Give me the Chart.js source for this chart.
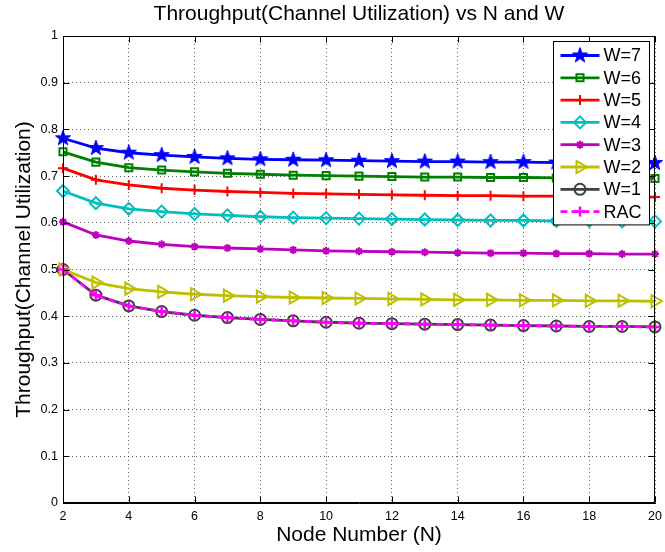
<!DOCTYPE html>
<html>
<head>
<meta charset="utf-8">
<script src="https://cdn.jsdelivr.net/npm/chart.js@4.4.1/dist/chart.umd.min.js"></script>
<style>
  html, body { margin: 0; padding: 0; background: #fff; }
  #wrap { width: 665px; height: 552px; }
</style>
</head>
<body>
<div id="wrap"><canvas id="chart" width="665" height="552"></canvas></div>
<script>
// Datos
const nodeNumbers = [2, 3, 4, 5, 6, 7, 8, 9, 10, 11, 12, 13, 14, 15, 16, 17, 18, 19, 20];
const w7 = [0.781, 0.760, 0.750, 0.745, 0.741, 0.738, 0.736, 0.735, 0.734, 0.733, 0.732, 0.731, 0.731, 0.730, 0.730, 0.729, 0.729, 0.729, 0.728];
const w6 = [0.752, 0.730, 0.718, 0.713, 0.709, 0.706, 0.704, 0.702, 0.701, 0.700, 0.699, 0.698, 0.698, 0.697, 0.697, 0.696, 0.696, 0.695, 0.695];
const w5 = [0.717, 0.692, 0.681, 0.674, 0.670, 0.667, 0.665, 0.663, 0.662, 0.661, 0.660, 0.659, 0.658, 0.658, 0.657, 0.657, 0.656, 0.656, 0.655];
const w4 = [0.668, 0.642, 0.630, 0.624, 0.619, 0.616, 0.613, 0.611, 0.610, 0.609, 0.608, 0.607, 0.606, 0.605, 0.605, 0.604, 0.604, 0.603, 0.603];
const w3 = [0.602, 0.574, 0.561, 0.554, 0.549, 0.546, 0.544, 0.542, 0.540, 0.539, 0.538, 0.537, 0.536, 0.535, 0.535, 0.534, 0.534, 0.533, 0.533];
const w2 = [0.500, 0.472, 0.459, 0.452, 0.447, 0.444, 0.442, 0.440, 0.439, 0.438, 0.437, 0.436, 0.435, 0.435, 0.434, 0.434, 0.433, 0.433, 0.432];
const w1 = [0.500, 0.445, 0.422, 0.410, 0.402, 0.397, 0.393, 0.390, 0.387, 0.385, 0.384, 0.383, 0.382, 0.381, 0.380, 0.379, 0.378, 0.378, 0.377];
const rac = [0.500, 0.445, 0.422, 0.410, 0.402, 0.397, 0.393, 0.390, 0.387, 0.385, 0.384, 0.383, 0.382, 0.381, 0.380, 0.379, 0.378, 0.378, 0.377];
const xTicks = [2, 4, 6, 8, 10, 12, 14, 16, 18, 20];
const yTicks = [0, 0.1, 0.2, 0.3, 0.4, 0.5, 0.6, 0.7, 0.8, 0.9, 1];

const FONT = '"Liberation Sans", Arial, Helvetica, sans-serif';

// Estrella (pentagrama) tipo MATLAB
function makeStar(color, r) {
  const c = document.createElement('canvas');
  const s = Math.ceil(r * 2 + 2);
  c.width = s; c.height = s;
  const g = c.getContext('2d');
  const cx = s / 2, cy = s / 2, ri = r * 0.4;
  g.beginPath();
  for (let i = 0; i < 10; i++) {
    const rr = i % 2 === 0 ? r : ri;
    const a = -Math.PI / 2 + i * Math.PI / 5;
    const px = cx + rr * Math.cos(a), py = cy + rr * Math.sin(a);
    if (i === 0) g.moveTo(px, py); else g.lineTo(px, py);
  }
  g.closePath();
  g.fillStyle = color;
  g.fill();
  g.strokeStyle = color;
  g.lineWidth = 1;
  g.stroke();
  return c;
}

const toPoints = arr => nodeNumbers.map((n, i) => ({ x: n, y: arr[i] }));

function serie(label, values, color, style, extra) {
  return Object.assign({
    label: label,
    data: toPoints(values),
    borderColor: color,
    backgroundColor: 'rgba(0,0,0,0)',
    pointBorderColor: color,
    pointBackgroundColor: 'rgba(0,0,0,0)',
    borderWidth: 2.8,
    pointStyle: style,
    pointRadius: 5,
    pointBorderWidth: 2,
    pointRotation: 0,
    tension: 0,
    clip: false,
  }, extra || {});
}

const datasets = [
  serie('W=7', w7, '#0000ff', makeStar('#0000ff', 8), { pointRadius: 8 }),
  serie('W=6', w6, '#008000', 'rect', { pointRadius: 5, pointBorderWidth: 2 }),
  serie('W=5', w5, '#ff0000', 'cross', { pointRadius: 5, pointBorderWidth: 2 }),
  serie('W=4', w4, '#00bfbf', 'rectRot', { pointRadius: 6, pointBorderWidth: 2 }),
  serie('W=3', w3, '#bf00bf', 'star', { pointRadius: 4, pointBorderWidth: 2 }),
  serie('W=2', w2, '#bfbf00', 'triangle', { pointRadius: 7, pointBorderWidth: 2, pointRotation: 90 }),
  serie('W=1', w1, '#404040', 'circle', { pointRadius: 5.5, pointBorderWidth: 2 }),
  serie('RAC', rac, '#ff00ff', 'cross', { pointRadius: 5, pointBorderWidth: 2.5, borderDash: [7, 4], order: -1 }),
];

// Marco, marcas hacia dentro, etiquetas del eje x, titulos y leyenda estilo MATLAB
const matlabPlugin = {
  id: 'matlab',
  afterDraw(chart) {
    const ctx = chart.ctx;
    const a = chart.chartArea;
    const xs = chart.scales.x, ys = chart.scales.y;
    const L = Math.round(a.left) + 0.5, R = Math.round(a.right) - 0.5;
    const T = Math.round(a.top) + 0.5, B = Math.round(a.bottom) - 0.5;

    ctx.save();
    ctx.strokeStyle = '#000';
    ctx.lineWidth = 1;
    ctx.setLineDash([]);
    ctx.strokeRect(L, T, R - L, B - T);

    // marcas
    ctx.beginPath();
    xTicks.forEach(v => {
      const px = Math.round(xs.getPixelForValue(v)) + 0.5;
      ctx.moveTo(px, B); ctx.lineTo(px, B - 6);
      ctx.moveTo(px, T); ctx.lineTo(px, T + 6);
    });
    yTicks.forEach(v => {
      const py = Math.round(ys.getPixelForValue(v)) + 0.5;
      ctx.moveTo(L, py); ctx.lineTo(L + 6, py);
      ctx.moveTo(R, py); ctx.lineTo(R - 6, py);
    });
    ctx.stroke();

    // etiquetas del eje x
    ctx.fillStyle = '#000';
    ctx.font = '12.5px ' + FONT;
    ctx.textAlign = 'center';
    ctx.textBaseline = 'top';
    xTicks.forEach(v => {
      ctx.fillText(String(v), xs.getPixelForValue(v), a.bottom + 7);
    });

    // titulo
    ctx.textBaseline = 'alphabetic';
    const cx = (a.left + a.right) / 2;
    ctx.font = '21px ' + FONT;
    ctx.fillText('Throughput(Channel Utilization) vs N and W', cx, 20);

    // eje x
    ctx.fillText('Node Number (N)', cx, 541);

    // eje y
    ctx.save();
    ctx.translate(30, (a.top + a.bottom) / 2);
    ctx.rotate(-Math.PI / 2);
    ctx.fillText('Throughput(Channel Utilization)', 0, 0);
    ctx.restore();

    // leyenda
    const boxW = 96, rowH = 22.3;
    const boxR = Math.round(a.right) - 5.5, boxT = Math.round(a.top) + 5.5;
    const boxL = boxR - boxW;
    const boxH = rowH * datasets.length + 5;
    ctx.fillStyle = '#fff';
    ctx.fillRect(boxL, boxT, boxW, boxH);
    ctx.strokeStyle = '#000';
    ctx.lineWidth = 1;
    ctx.strokeRect(boxL, boxT, boxW, boxH);

    ctx.font = '18px ' + FONT;
    ctx.textAlign = 'left';
    ctx.textBaseline = 'middle';
    chart.data.datasets.forEach((ds, i) => {
      const y = boxT + 14 + i * rowH;
      const x0 = boxL + 7, x1 = boxL + 46, xm = (x0 + x1) / 2;
      ctx.save();
      ctx.strokeStyle = ds.borderColor;
      ctx.lineWidth = ds.borderWidth;
      ctx.setLineDash(ds.borderDash || []);
      ctx.beginPath();
      ctx.moveTo(x0, y); ctx.lineTo(x1, y);
      ctx.stroke();
      ctx.setLineDash([]);
      ctx.strokeStyle = ds.pointBorderColor;
      ctx.fillStyle = ds.pointBackgroundColor;
      ctx.lineWidth = ds.pointBorderWidth;
      Chart.helpers.drawPoint(ctx, {
        pointStyle: ds.pointStyle,
        rotation: ds.pointRotation,
        radius: ds.pointRadius,
        borderWidth: ds.pointBorderWidth,
      }, xm, y);
      ctx.restore();
      ctx.fillStyle = '#000';
      ctx.fillText(ds.label, boxL + 50, y + 1);
    });
    ctx.restore();
  },
};

new Chart(document.getElementById('chart'), {
  type: 'line',
  data: { datasets: datasets },
  options: {
    responsive: false,
    animation: false,
    layout: { padding: { top: 36, right: 7, left: 0, bottom: 0 } },
    plugins: {
      legend: { display: false },
      tooltip: { enabled: false },
      title: { display: false },
    },
    scales: {
      x: {
        type: 'linear',
        min: 2,
        max: 20,
        afterFit: scale => { scale.height = 49; },
        afterBuildTicks: scale => { scale.ticks = xTicks.map(v => ({ value: v })); },
        ticks: { display: false },
        grid: { color: 'rgba(0,0,0,0.6)', lineWidth: 1, drawTicks: false },
        border: { display: true, color: '#000', dash: [1, 3] },
      },
      y: {
        type: 'linear',
        min: 0,
        max: 1,
        afterFit: scale => { scale.width = 63; },
        afterBuildTicks: scale => { scale.ticks = yTicks.map(v => ({ value: v })); },
        ticks: {
          color: '#000',
          font: { family: FONT, size: 12.5 },
          padding: 5,
          callback: v => String(Math.round(v * 10) / 10),
        },
        grid: { color: 'rgba(0,0,0,0.6)', lineWidth: 1, drawTicks: false },
        border: { display: true, color: '#000', dash: [1, 3] },
      },
    },
  },
  plugins: [matlabPlugin],
});
</script>
</body>
</html>
